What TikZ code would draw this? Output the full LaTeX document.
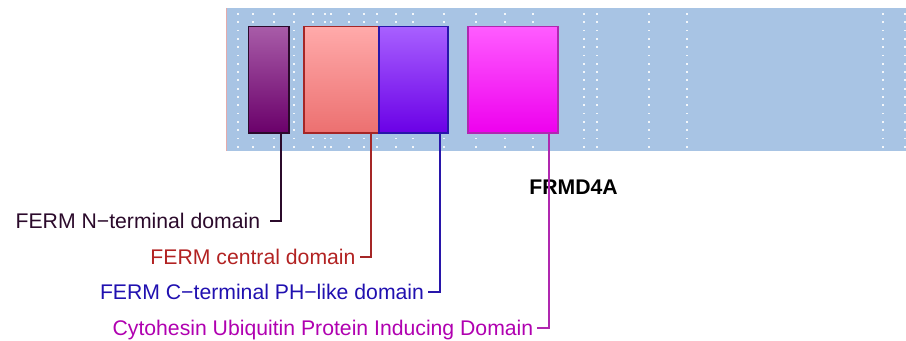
\documentclass[tikz,border=0pt]{standalone}
\usepackage{fontspec}
\setmainfont{Liberation Sans}
\usetikzlibrary{positioning}

\definecolor{bgblue}{RGB}{168,196,228}
\definecolor{bgedge}{RGB}{228,170,170}
\definecolor{ntermtop}{RGB}{168,92,168}
\definecolor{ntermbot}{RGB}{106,0,106}
\definecolor{ntermline}{RGB}{43,10,43}
\definecolor{centtop}{RGB}{255,170,170}
\definecolor{centbot}{RGB}{236,112,112}
\definecolor{centline}{RGB}{165,38,38}
\definecolor{centtxt}{RGB}{178,34,34}
\definecolor{ctermtop}{RGB}{168,96,255}
\definecolor{ctermbot}{RGB}{106,0,230}
\definecolor{ctermline}{RGB}{40,22,170}
\definecolor{ctermtxt}{RGB}{32,16,176}
\definecolor{cytotop}{RGB}{255,92,255}
\definecolor{cytobot}{RGB}{238,0,238}
\definecolor{cytoline}{RGB}{176,40,176}
\definecolor{cytotxt}{RGB}{176,0,176}

\begin{document}
\begin{tikzpicture}[
    x=0.5pt, y=-0.5pt,
    dom/.style={draw, line width=0.8pt, anchor=north west, inner sep=0pt, minimum height=53.3pt},
    lab/.style={font=\fontsize{10.6}{12}\selectfont, inner xsep=1.8pt, inner ysep=0pt, text height=7.6pt, text depth=0pt},
    link/.style={line width=1pt}
]
\useasboundingbox (0,0) rectangle (906,341);

% track
\fill[bgblue] (226,8) rectangle (906,151);
\draw[bgedge, line width=0.4pt] (226.5,8) -- (226.5,151);
\foreach \gx in {237.7,252.7,273.7,294.3,312.7,325.3,331,349.3,364.3,376.7,396,413.3,444.3,476,505.3,532.7,584,596.7,649.3,686.7,883.3,905}
    \foreach \gy in {0,...,16}
        \fill[white, opacity=0.85] ({\gx-0.9},{13.1+8.3*\gy}) rectangle ++(1.8,1.8);

% domains
\node[dom, draw=ntermline, top color=ntermtop, bottom color=ntermbot, minimum width=20.3pt] (nterm) at (247.7,25.7) {};
\node[dom, draw=centline, top color=centtop, bottom color=centbot, minimum width=37.65pt] (cent) at (303,25.7) {};
\node[dom, draw=ctermline, top color=ctermtop, bottom color=ctermbot, minimum width=34.35pt] (cterm) at (378.3,25.7) {};
\node[dom, draw=cytoline, top color=cytotop, bottom color=cytobot, minimum width=45pt] (cyto) at (467,25.7) {};

\node[lab, font=\fontsize{10.6}{12}\selectfont\bfseries] (prot) at (573.5,186.7) {FRMD4A};

% labels
\coordinate (t1) at (281,221);
\coordinate (t2) at (371,256.7);
\coordinate (t3) at (440,292.3);
\coordinate (t4) at (549.3,328.3);

\node[lab, text=ntermline, left=5.5pt of t1] (lab1) {FERM N−terminal domain~\mbox{}};
\node[lab, text=centtxt, left=5.75pt of t2] (lab2) {FERM central domain};
\node[lab, text=ctermtxt, left=6pt of t3] (lab3) {FERM C−terminal PH−like domain};
\node[lab, text=cytotxt, left=6pt of t4] (lab4) {Cytohesin Ubiquitin Protein Inducing Domain};

\draw[link, ntermline] (nterm.south -| t1) |- (lab1);
\draw[link, centline] (cent.south -| t2) |- (lab2);
\draw[link, ctermline] (cterm.south -| t3) |- (lab3);
\draw[link, cytoline] (cyto.south -| t4) |- (lab4);
\end{tikzpicture}
\end{document}
